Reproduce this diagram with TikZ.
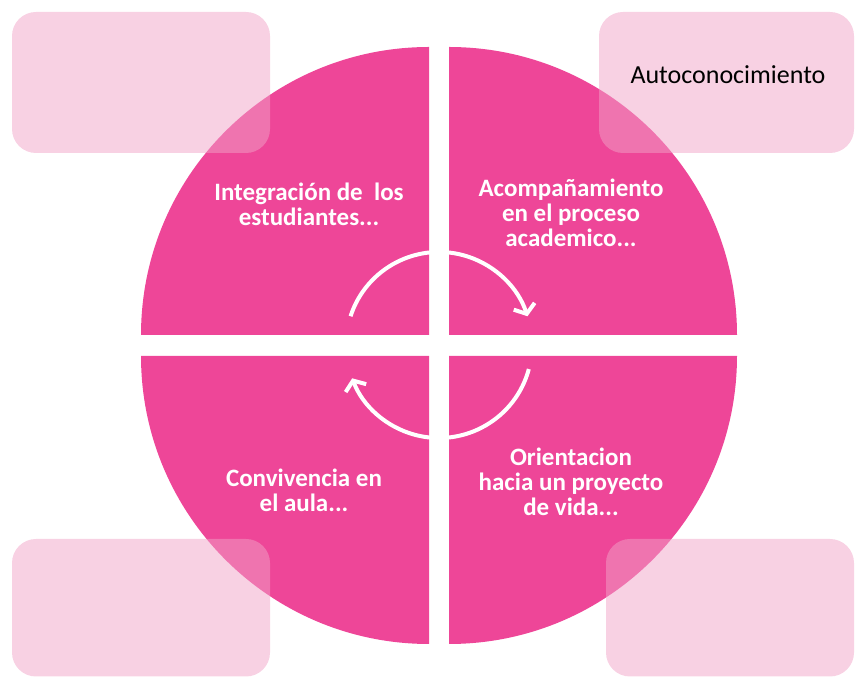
\documentclass[tikz,border=0pt]{standalone}
\usepackage{fontspec}
\setmainfont{Carlito}
\usetikzlibrary{arrows.meta}
\definecolor{quadc}{RGB}{238,70,152}
\definecolor{boxc}{RGB}{241,163,199}
\begin{document}
\begin{tikzpicture}[x=1pt,y=1pt,
 quadfill/.style={fill=quadc},
 notebox/.style={fill=boxc, fill opacity=0.5, rounded corners=24pt},
 quadtext/.style={text=white, font=\fontsize{25}{25}\selectfont\bfseries, align=center},
 cyc/.style={draw=white, line width=4pt, -{Straight Barb[length=8pt,width=22pt]}}]
\useasboundingbox (0,0) rectangle (855,677);
% quadrants
\fill[quadfill] (429,342) -- ++(-288,0) arc[start angle=180,end angle=90,radius=288] -- cycle;
\fill[quadfill] (449,342) -- ++(0,288) arc[start angle=90,end angle=0,radius=288] -- cycle;
\fill[quadfill] (429,321) -- ++(0,-288) arc[start angle=270,end angle=180,radius=288] -- cycle;
\fill[quadfill] (449,321) -- ++(288,0) arc[start angle=0,end angle=-90,radius=288] -- cycle;
% texts
\node[quadtext] (tl) at (309,473) {Integración de\ \ los\\estudiantes...};
\node[quadtext] (tr) at (571,464) {Acompañamiento\\en el proceso\\academico...};
\node[quadtext] (bl) at (304,187) {Convivencia en\\el aula...};
\node[quadtext] (br) at (571,195) {Orientacion\\hacia un proyecto\\de vida...};
% cycle arrows
\coordinate (c) at (439,332);
\draw[cyc] (c) ++(162:93) arc[start angle=162,end angle=18,radius=93];
\draw[cyc] (c) ++(-15:93) arc[start angle=-15,end angle=-159,radius=93];
% boxes
\fill[notebox] (12,524) rectangle (270,665);
\fill[notebox] (599,524) rectangle (854,665);
\fill[notebox] (12,0.5) rectangle (270,138);
\fill[notebox] (606,0.5) rectangle (854,138);
\node[text=black, font=\fontsize{26}{26}\selectfont] (auto) at (728,602) {Autoconocimiento};
\end{tikzpicture}
\end{document}
